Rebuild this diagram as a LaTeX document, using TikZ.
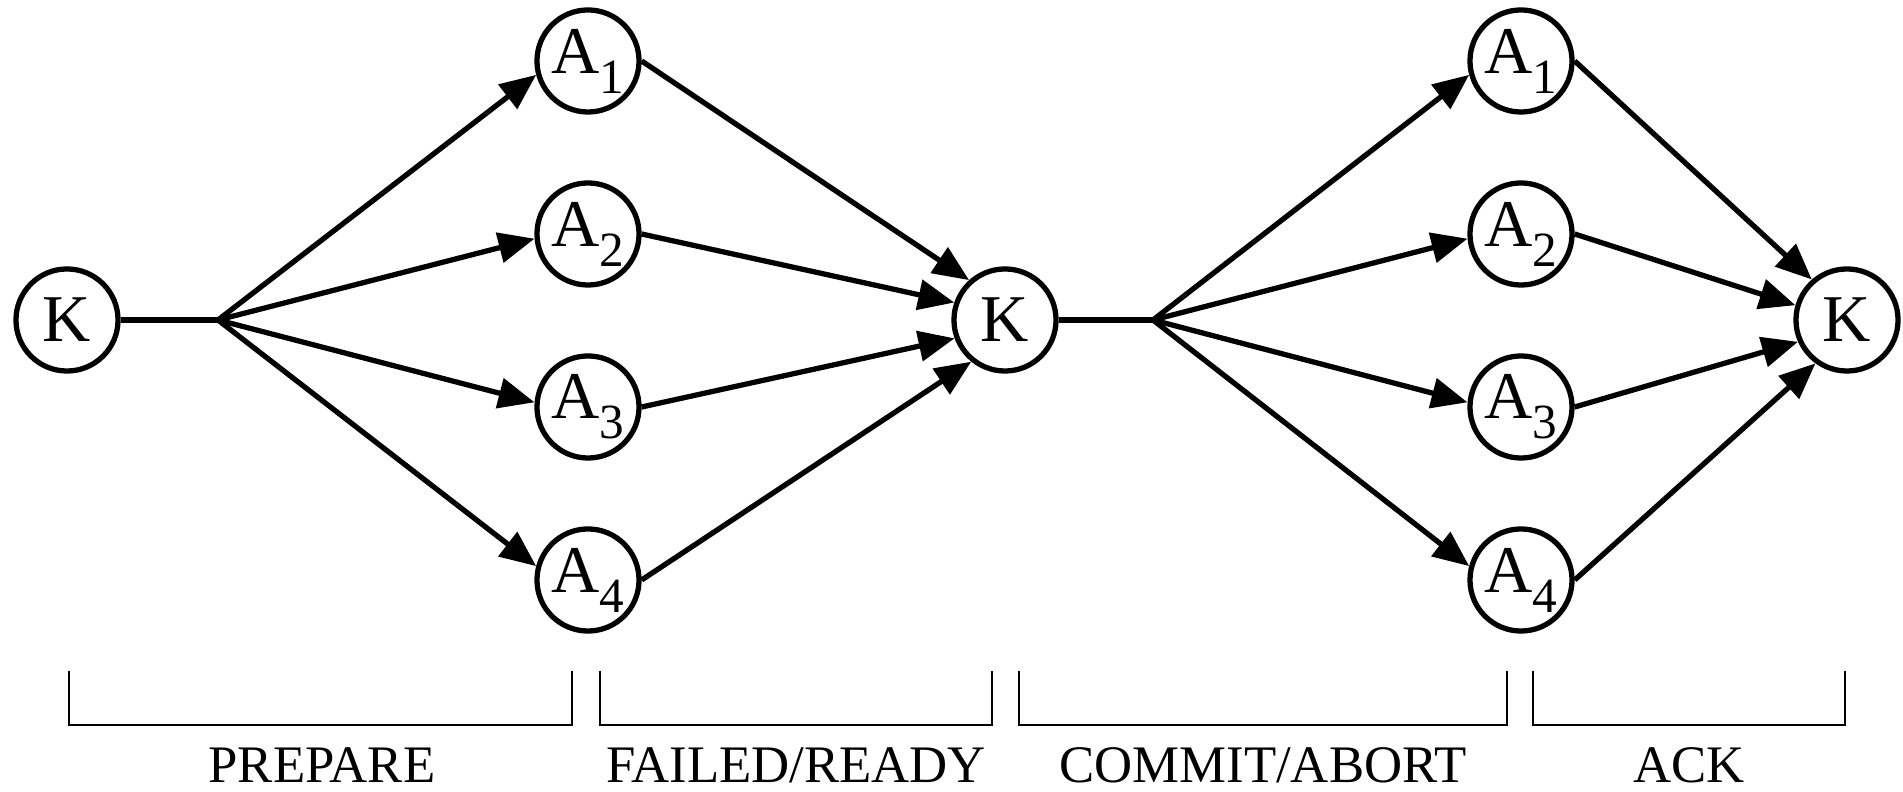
\documentclass[tikz,border=0pt]{standalone}
\usepackage{fontspec}
\setmainfont{Liberation Serif}
\usetikzlibrary{arrows.meta, positioning}

\newcommand{\agent}[1]{A\raisebox{-0.3em}{\fontsize{14}{14}\selectfont #1}}

\begin{document}
\begin{tikzpicture}[x=0.01cm, y=-0.01cm, line width=1.5pt,
        site/.style={circle, draw, minimum size=1.02cm, inner sep=0pt, font=\fontsize{19}{20}\selectfont},
        msg/.style={-{Triangle[length=0.36cm, width=0.3cm]}},
        phase/.style={line width=0.5pt},
        tag/.style={anchor=base, font=\fontsize{15}{18}\selectfont}]
        \useasboundingbox (0,0) rectangle (1903,792);

        % coordinators
        \node[site] (k1) at (67, 320) {K};
        \node[site] (k2) at (1005, 320) {K};
        \node[site] (k3) at (1847, 320) {K};

        % first round
        \node[site] (a1) at (588, 61) {\agent{1}};
        \node[site] (a2) at (588, 234) {\agent{2}};
        \node[site] (a3) at (588, 407) {\agent{3}};
        \node[site] (a4) at (588, 580) {\agent{4}};

        % second round
        \node[site] (b1) at (1521, 61) {\agent{1}};
        \node[site] (b2) at (1521, 234) {\agent{2}};
        \node[site] (b3) at (1521, 407) {\agent{3}};
        \node[site] (b4) at (1521, 580) {\agent{4}};

        \coordinate (p) at (218, 320);
        \coordinate (q) at (1153, 320);

        \draw (k1.east) -- (p)
            (k2.east) -- (q);

        \draw[msg] (p) -- (a1.195);
        \draw[msg] (p) -- (a2.185);
        \draw[msg] (p) -- (a3.175);
        \draw[msg] (p) -- (a4.165);
        \draw[msg] (a1.east) -- (k2.132);
        \draw[msg] (a2.east) -- (k2.161);
        \draw[msg] (a3.east) -- (k2.200);
        \draw[msg] (a4.east) -- (k2.231);

        \draw[msg] (q) -- (b1.195);
        \draw[msg] (q) -- (b2.185);
        \draw[msg] (q) -- (b3.175);
        \draw[msg] (q) -- (b4.165);
        \draw[msg] (b1.east) -- (k3.131);
        \draw[msg] (b2.east) -- (k3.164);
        \draw[msg] (b3.east) -- (k3.204);
        \draw[msg] (b4.east) -- (k3.234);

        % phases
        \draw[phase] (69, 671) |- (572, 725) -- (572, 671);
        \draw[phase] (600, 671) |- (992, 725) -- (992, 671);
        \draw[phase] (1019, 671) |- (1507, 725) -- (1507, 671);
        \draw[phase] (1533, 671) |- (1845, 725) -- (1845, 671);

        \node[tag] (prepare) at (322, 783) {PREPARE};
        \node[tag] (ready) at (796, 783) {FAILED/READY};
        \node[tag] (commit) at (1263, 783) {COMMIT/ABORT};
        \node[tag] (ack) at (1689, 783) {ACK};
\end{tikzpicture}
\end{document}
